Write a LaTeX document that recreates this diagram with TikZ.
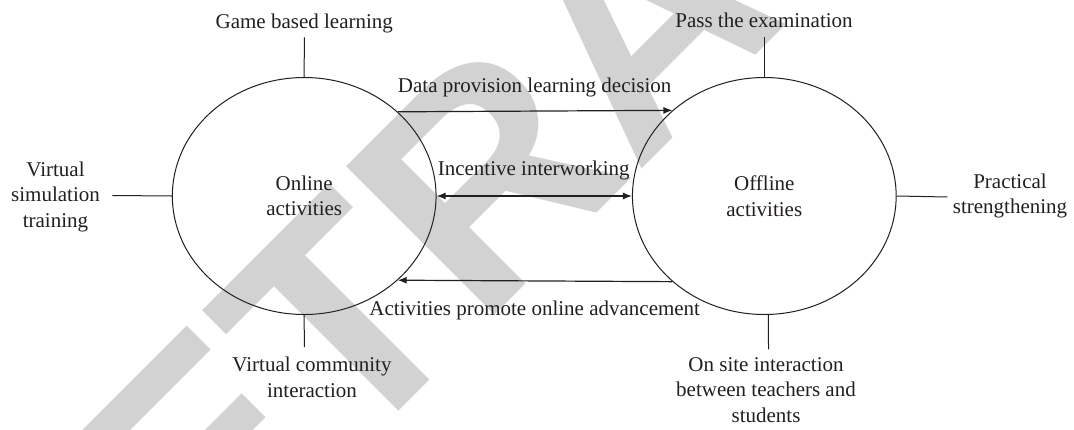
\documentclass[tikz,border=0pt]{standalone}
\usepackage{fontspec}
\setmainfont{Liberation Serif}
\newfontfamily\wmfont{Liberation Sans}
\usetikzlibrary{shapes.geometric,arrows.meta}
\definecolor{ink}{RGB}{35,31,32}
\definecolor{wm}{RGB}{210,210,210}
\newcommand{\ml}[1]{\begin{tabular}[t]{@{}c@{}}#1\end{tabular}}
\begin{document}
\begin{tikzpicture}[x=1pt,y=-1pt,
  lbl/.style={font=\fontsize{21}{25.5}\selectfont, text=ink, inner sep=0pt, anchor=base},
  circ/.style={ellipse, draw=ink, line width=1pt, minimum width=263.7pt, minimum height=237pt,
               inner sep=0pt, align=center, text=ink, font=\fontsize{21}{25.5}\selectfont},
  stub/.style={draw=ink, line width=1pt},
  arr/.style={draw=ink, line width=1.2pt, -{Latex[length=9pt,width=7pt]}},
  darr/.style={draw=ink, line width=1.2pt, {Latex[length=9pt,width=7pt]}-{Latex[length=9pt,width=7pt]}},
  ]
\fill[white] (0,0) rectangle (1074,429);
\useasboundingbox (0,0) rectangle (1074,429);

% watermark
\node[text=wm, font=\wmfont\bfseries\fontsize{305}{305}\selectfont, rotate=45, inner sep=0pt] (wmk) at (640,22) {RETRACTED};

% main ellipses
\node[circ] (on) at (304.2,196) {Online\\activities};
\node[circ] (off) at (764.3,196) {Offline\\activities};

% outer labels
\node[lbl] (game) at (304.3,28) {Game based learning};
\node[lbl] (pass) at (764,27.5) {Pass the examination};
\node[lbl] (vst) at (55.5,176) {\ml{Virtual\\simulation\\training}};
\node[lbl] (prac) at (1010,188) {\ml{Practical\\strengthening}};
\node[lbl] (vci) at (312,371.5) {\ml{Virtual community\\interaction}};
\node[lbl] (osi) at (766,371) {\ml{On site interaction\\between teachers and\\students}};

% arrow labels
\node[lbl] (dp) at (534.7,92) {Data provision learning decision};
\node[lbl] (ii) at (533.7,175) {Incentive interworking};
\node[lbl] (ap) at (534.7,315) {Activities promote online advancement};

% stub end points
\coordinate (gameE) at (304.3,37.3);
\coordinate (passE) at (764.3,37.3);
\coordinate (vstE) at (112.3,195.5);
\coordinate (pracE) at (947.3,197);
\coordinate (vciE) at (304.3,347);
\coordinate (osiE) at (768.5,349.3);

\draw[stub] (on.north) -- (gameE);
\draw[stub] (off.north) -- (passE);
\draw[stub] (on.west) -- (vstE);
\draw[stub] (off.east) -- (pracE);
\draw[stub] (on.south) -- (vciE);
\draw[stub] (off.-88) -- (osiE);

% arrows
\draw[arr] (on.42.3) -- (off.137.7);
\draw[darr] (on.east) -- (off.west);
\draw[arr] (off.-137.7) -- (on.-42.3);
\end{tikzpicture}
\end{document}
